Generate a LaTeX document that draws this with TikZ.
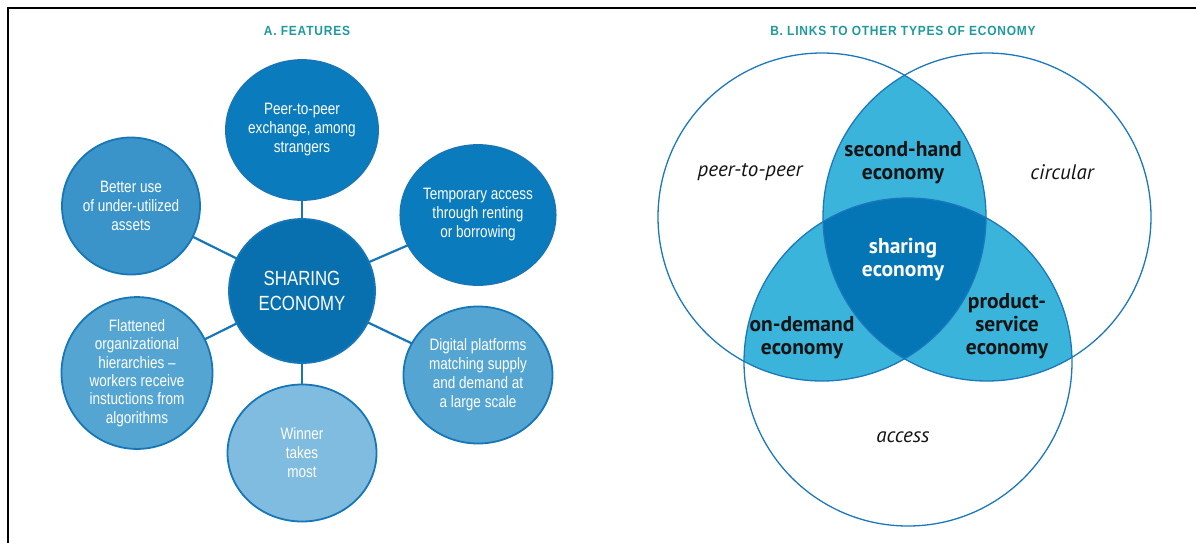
\documentclass[tikz,border=0pt]{standalone}
\usepackage{fontspec}
\usetikzlibrary{shapes.geometric,backgrounds}
\newfontfamily\condf[FakeStretch=0.82]{Liberation Sans}
\newfontfamily\titlef[FakeStretch=0.9,LetterSpace=6]{Liberation Sans}
\newfontfamily\vennf{PT Sans}
\definecolor{edgeblue}{HTML}{1676B8}
\definecolor{cCore}{HTML}{0870AF}
\definecolor{cDark}{HTML}{0A7BBC}
\definecolor{cMid}{HTML}{3A94CA}
\definecolor{cLight}{HTML}{55A5D3}
\definecolor{cPale}{HTML}{80BCDF}
\definecolor{teal}{HTML}{1F9A9C}
\definecolor{vCyan}{HTML}{3BB4DC}
\definecolor{vDark}{HTML}{0576B5}
\definecolor{vLine}{HTML}{1B78BC}
\definecolor{vText}{HTML}{141414}
\tikzset{
  feat/.style={ellipse, draw=edgeblue, line width=1.8pt, inner sep=0pt, text=white,
    align=center, font=\condf\fontsize{16.5}{19}\selectfont},
  conn/.style={draw=edgeblue, line width=2.2pt},
  paneltitle/.style={text=teal, font=\titlef\bfseries\fontsize{13.3}{15}\selectfont},
  venn/.style={draw=vLine, line width=1.3pt},
  vlabel/.style={text=vText, align=center, font=\vennf\bfseries\fontsize{21.5}{23}\selectfont},
  vital/.style={text=vText, font=\vennf\itshape\fontsize{21}{23}\selectfont}
}
\begin{document}
\begin{tikzpicture}[x=1pt,y=-1pt]
\useasboundingbox (0,0) rectangle (1196,542);
\draw[line width=2.6pt, black] (8,545) -- (8,8) -- (1200,8);

% titles
\node[paneltitle] (ta) at (307,31) {A. FEATURES};
\node[paneltitle] (tb) at (903,31) {B. LINKS TO OTHER TYPES OF ECONOMY};

% features
\node[feat, fill=cCore, minimum width=146pt, minimum height=144pt,
      font=\condf\fontsize{20.5}{25}\selectfont] (core) at (302,291) {SHARING\\ECONOMY};
\node[feat, fill=cDark, minimum width=144pt, minimum height=140pt] (peer) at (302,130)
  {Peer-to-peer\\exchange, among\\strangers};
\node[feat, fill=cMid, minimum width=138pt, minimum height=137pt] (better) at (131,206)
  {Better use\\of under-utilized\\assets};
\node[feat, fill=cDark, minimum width=146pt, minimum height=140pt] (temp) at (478,215)
  {Temporary access\\through renting\\or borrowing};
\node[feat, fill=cLight, minimum width=151pt, minimum height=145pt,
      font=\condf\fontsize{16.5}{18.4}\selectfont] (flat) at (137,373)
  {Flattened\\organizational\\hierarchies –\\workers receive\\instuctions from\\algorithms};
\node[feat, fill=cLight, minimum width=149pt, minimum height=137pt] (digital) at (478,375)
  {Digital platforms\\matching supply\\and demand at\\a large scale};
\node[feat, fill=cPale, minimum width=149pt, minimum height=137pt] (winner) at (302,453)
  {Winner\\takes\\most};

\begin{scope}[on background layer]
  \draw[conn] (core.center) -- (peer.center);
  \draw[conn] (core.center) -- (better.center);
  \draw[conn] (core.center) -- (temp.center);
  \draw[conn] (core.center) -- (flat.center);
  \draw[conn] (core.center) -- (digital.center);
  \draw[conn] (core.center) -- (winner.center);
\end{scope}

% Venn diagram
\def\CA{(822,217) circle (164)}
\def\CB{(987,217) circle (164)}
\def\CC{(908,362) circle (164)}
\begin{scope}
  \clip \CA;
  \fill[vCyan] \CB;
  \fill[vCyan] \CC;
\end{scope}
\begin{scope}
  \clip \CB;
  \fill[vCyan] \CC;
\end{scope}
\begin{scope}
  \clip \CA;
  \clip \CB;
  \fill[vDark] \CC;
\end{scope}
\draw[venn] \CA;
\draw[venn] \CB;
\draw[venn] \CC;

\node[vital] (p2p) at (750,172) {peer-to-peer};
\node[vital] (circ) at (1062,172) {circular};
\node[vital] (acc) at (903,437) {access};
\node[vlabel] (second) at (903,163) {second-hand\\economy};
\node[vlabel, text=white] (sharing) at (903,260) {sharing\\economy};
\node[vlabel] (ondemand) at (802,338) {on-demand\\economy};
\node[vlabel] (product) at (1007,326) {product-\\service\\economy};
\end{tikzpicture}
\end{document}
